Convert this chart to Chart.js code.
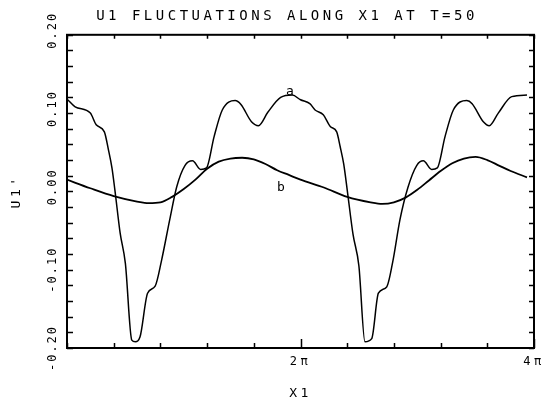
<!DOCTYPE html>
<html>
<head>
<meta charset="utf-8">
<script src="https://cdn.jsdelivr.net/npm/chart.js@4.4.0/dist/chart.umd.min.js"></script>
<style>
  html, body { margin: 0; padding: 0; background: #fff; }
  #wrap { width: 543px; height: 406px; }
</style>
</head>
<body>
<div id="wrap"><canvas id="chart" width="543" height="406"></canvas></div>
<script>
// -- DATA (x in units of pi)
const aX = [0, 0.07, 0.2, 0.25, 0.32, 0.355, 0.385, 0.41, 0.455, 0.5,
            0.555, 0.585, 0.625, 0.69, 0.755, 0.81, 0.88, 0.94, 1.01, 1.075,
            1.145, 1.195, 1.26, 1.33, 1.44, 1.49, 1.58, 1.64, 1.72, 1.83,
            1.93, 2.0, 2.08, 2.125, 2.195, 2.255, 2.31, 2.34, 2.37, 2.4,
            2.45, 2.5, 2.552, 2.61, 2.667, 2.738, 2.79, 2.852, 2.92, 2.995,
            3.052, 3.124, 3.172, 3.238, 3.309, 3.424, 3.47, 3.566, 3.617, 3.694,
            3.809, 3.94];
const aY = [0.118, 0.108, 0.100, 0.085, 0.076, 0.053, 0.030, 0.002, -0.053, -0.092,
            -0.190, -0.192, -0.186, -0.130, -0.121, -0.088, -0.036, 0.006, 0.033, 0.039,
            0.028, 0.030, 0.070, 0.104, 0.116, 0.111, 0.089, 0.084, 0.101, 0.120,
            0.123, 0.117, 0.112, 0.104, 0.098, 0.083, 0.076, 0.057, 0.035, 0.002,
            -0.055, -0.095, -0.192, -0.188, -0.130, -0.122, -0.090, -0.036, 0.005, 0.033,
            0.039, 0.028, 0.030, 0.070, 0.104, 0.116, 0.112, 0.089, 0.084, 0.100,
            0.121, 0.123];

const bX = [0, 0.2, 0.4, 0.6, 0.7, 0.8, 0.9, 1.0, 1.1, 1.2, 1.3, 1.4, 1.5, 1.6, 1.7, 1.8, 1.9,
            2.0, 2.2, 2.4, 2.6, 2.7, 2.8, 2.9, 3.0, 3.1, 3.2, 3.3, 3.4, 3.5, 3.6, 3.7, 3.8, 3.94];
const bY = [0.015, 0.004, -0.006, -0.013, -0.015, -0.014, -0.007, 0.003, 0.015, 0.029, 0.038, 0.042, 0.043, 0.041, 0.035, 0.027, 0.021,
            0.015, 0.005, -0.007, -0.014, -0.016, -0.014, -0.008, 0.002, 0.014, 0.026, 0.036, 0.042, 0.044, 0.040, 0.033, 0.026, 0.018];

const xLabelValues = [2, 4];
const xLabelTexts  = ['2π', '4π'];

const curveNames = ['a', 'b'];
const curveNameX = [1.91, 1.833];
const curveNameY = [0.128, 0.0045];

const MONO = "'DejaVu Sans Mono', monospace";

const toPts = (xs, ys) => xs.map((x, i) => ({ x: x, y: ys[i] }));

// -- plotter look: spaced lettering
const spacing = {
  id: 'spacing',
  beforeUpdate(chart) { chart.ctx.letterSpacing = '3.5px'; },
  beforeDraw(chart)   { chart.ctx.letterSpacing = '3.5px'; }
};

// -- frame, inward ticks, y labels, curve names
const frame = {
  id: 'frame',
  afterDraw(chart) {
    const { ctx, chartArea: ca, scales: { x, y } } = chart;
    ctx.save();
    ctx.strokeStyle = '#000';
    ctx.lineWidth = 2;
    ctx.strokeRect(ca.left, ca.top, ca.right - ca.left, ca.bottom - ca.top);

    ctx.lineWidth = 1.5;
    ctx.beginPath();
    x.ticks.forEach(t => {
      const px = Math.round(x.getPixelForValue(t.value)) + 0.5;
      const len = xLabelValues.some(v => Math.abs(v - t.value) < 1e-6) ? 9 : 5;
      ctx.moveTo(px, ca.bottom); ctx.lineTo(px, ca.bottom - len);
      ctx.moveTo(px, ca.top);    ctx.lineTo(px, ca.top + 4);
    });
    y.ticks.forEach(t => {
      const py = Math.round(y.getPixelForValue(t.value)) + 0.5;
      ctx.moveTo(ca.left, py);  ctx.lineTo(ca.left + 6, py);
      ctx.moveTo(ca.right, py); ctx.lineTo(ca.right - 5, py);
    });
    ctx.stroke();

    // y labels, rotated, decimal point on the tick
    ctx.fillStyle = '#000';
    ctx.font = '12px ' + MONO;
    ctx.letterSpacing = '2px';
    ctx.textAlign = 'left';
    ctx.textBaseline = 'middle';
    y.ticks.forEach(t => {
      const v = t.value;
      if (Math.abs(v * 10 - Math.round(v * 10)) > 1e-6) return;
      const s = (Math.abs(v) < 1e-9 ? 0 : v).toFixed(2);
      const idx = s.indexOf('.');
      const pre = ctx.measureText(s.slice(0, idx)).width;
      const dot = ctx.measureText('.').width;
      ctx.save();
      ctx.translate(ca.left - 14.5, y.getPixelForValue(v));
      ctx.rotate(-Math.PI / 2);
      ctx.fillText(s, -(pre + dot / 2), 0);
      ctx.restore();
    });

    ctx.font = '13px ' + MONO;
    ctx.letterSpacing = '0px';
    ctx.textAlign = 'center';
    curveNames.forEach((n, i) => {
      ctx.fillText(n, x.getPixelForValue(curveNameX[i]), y.getPixelForValue(curveNameY[i]));
    });
    ctx.restore();
  }
};

new Chart(document.getElementById('chart'), {
  type: 'line',
  data: {
    datasets: [
      { label: 'a', data: toPts(aX, aY), borderColor: '#000', borderWidth: 1.5,
        pointRadius: 0, cubicInterpolationMode: 'monotone', fill: false },
      { label: 'b', data: toPts(bX, bY), borderColor: '#000', borderWidth: 1.8,
        pointRadius: 0, cubicInterpolationMode: 'monotone', fill: false }
    ]
  },
  options: {
    responsive: false,
    animation: false,
    devicePixelRatio: 1,
    layout: { padding: { left: 40, right: 9, top: 0, bottom: 0 } },
    plugins: {
      legend: { display: false },
      tooltip: { enabled: false },
      title: {
        display: true,
        text: 'U1 FLUCTUATIONS ALONG X1 AT T=50',
        color: '#000',
        font: { family: MONO, size: 14, weight: 'normal' },
        padding: { top: 8, bottom: 10 }
      }
    },
    scales: {
      x: {
        type: 'linear', min: 0, max: 4,
        grid: { display: false, drawTicks: false },
        border: { display: false },
        ticks: {
          stepSize: 0.4, autoSkip: false, maxRotation: 0, padding: 7,
          color: '#000', font: { family: MONO, size: 12 },
          callback: v => {
            const i = xLabelValues.findIndex(l => Math.abs(l - v) < 1e-6);
            return i >= 0 ? xLabelTexts[i] : '';
          }
        },
        title: { display: true, text: 'X1', color: '#000',
                 font: { family: MONO, size: 13 }, padding: { top: 0, bottom: 5 } },
        afterFit: s => { s.height = 58; s.paddingLeft = 0; s.paddingRight = 0; }
      },
      y: {
        type: 'linear', min: -0.2, max: 0.2,
        grid: { display: false, drawTicks: false },
        border: { display: false },
        ticks: { display: false, stepSize: 0.02 },
        title: { display: true, text: "U1'", color: '#000',
                 font: { family: MONO, size: 13 }, padding: { top: -30.8, bottom: 0 } },
        afterFit: s => { s.width = 27; }
      }
    }
  },
  plugins: [spacing, frame]
});
</script>
</body>
</html>
